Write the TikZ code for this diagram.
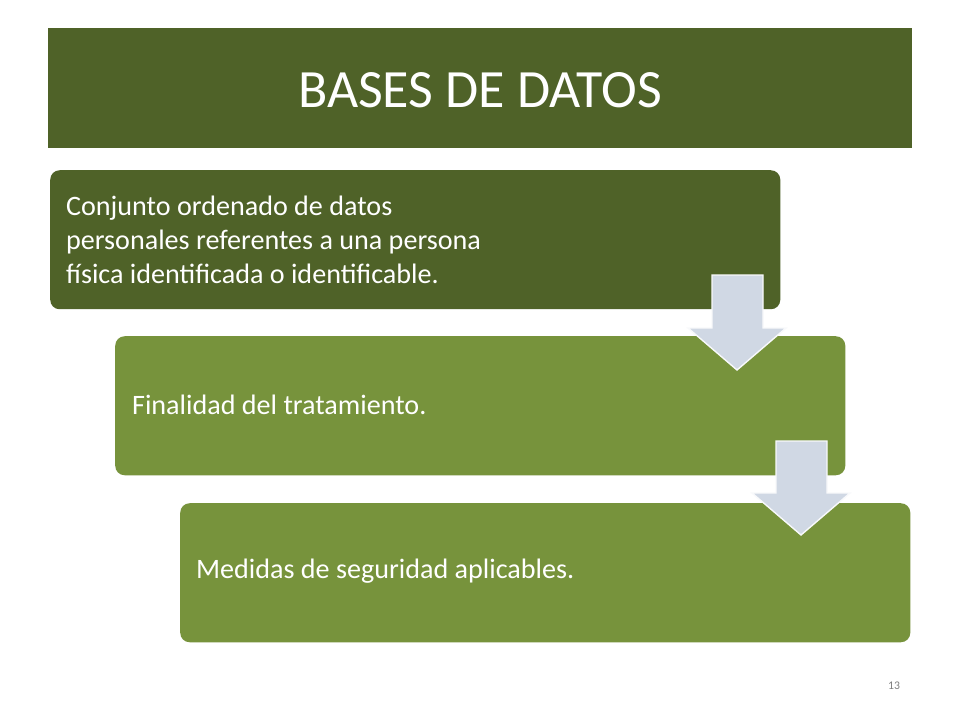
\documentclass[tikz,border=0pt]{standalone}
\usepackage{fontspec}
\setmainfont{Carlito}
\usetikzlibrary{positioning}
\definecolor{darkolive}{HTML}{4F6228}
\definecolor{olive}{HTML}{77933C}
\definecolor{arrowfill}{HTML}{D0D8E4}
\begin{document}
\begin{tikzpicture}[x=0.03cm, y=-0.03cm,
    stepbox/.style={rounded corners=8pt, minimum width=21.9cm, minimum height=4.17cm, anchor=north west},
    steptext/.style={text=white, font=\fontsize{24}{29}\selectfont, align=left, anchor=west},
    downarrow/.style={fill=arrowfill, draw=white!85!arrowfill, line width=1.2pt}]
    \useasboundingbox (0,0) rectangle (960,720);
    \fill[white] (0,0) rectangle (960,720);

    \node[fill=darkolive, minimum width=25.92cm, minimum height=3.6cm, anchor=north west] at (48,28) (title) {};
    \node[text=white, font=\fontsize{46}{50}\selectfont] at (480,90) (titletext) {BASES DE DATOS};

    \node[stepbox, fill=darkolive] at (50,170) (box1) {};
    \node[stepbox, fill=olive] at (115,336) (box2) {};
    \node[stepbox, fill=olive] at (180,503) (box3) {};

    \node[steptext] at (62,240) (text1) {Conjunto ordenado de datos\\personales referentes a una persona\\física identificada o identificable.};
    \node[steptext] at (128,405) (text2) {Finalidad del tratamiento.};
    \node[steptext] at (192,571) (text3) {Medidas de seguridad aplicables.};

    \draw[downarrow] (712,275) -- (763,275) -- (763,328) -- (786,328) -- (737,370) -- (688,328) -- (712,328) -- cycle;
    \draw[downarrow] (776,441) -- (827,441) -- (827,493) -- (850,493) -- (801,535) -- (752,493) -- (776,493) -- cycle;

    \node[text=gray, font=\fontsize{10}{12}\selectfont] at (894,686) (pagenum) {13};
\end{tikzpicture}
\end{document}
